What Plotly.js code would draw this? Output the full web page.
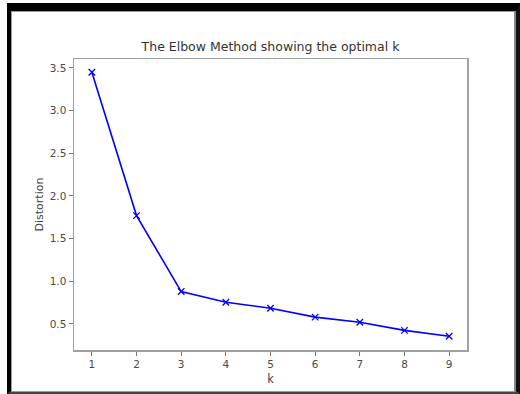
<!DOCTYPE html>
<html>
<head>
<meta charset="utf-8">
<script src="https://cdn.plot.ly/plotly-3.0.1.min.js"></script>
<style>
html,body{margin:0;padding:0;background:#fff;}
#wrap{position:relative;width:520px;height:394px;overflow:hidden;}
#chart{position:absolute;left:0;top:0;width:520px;height:394px;}
#frame{position:absolute;left:7px;top:3px;width:505px;height:380px;border-top:8px solid #000;border-left:4px solid #000;border-right:4px solid #111;border-bottom:3px solid #444;pointer-events:none;}
#frame2{position:absolute;left:11px;top:11px;width:502px;height:379px;border-top:1px solid #999;border-left:1px solid #999;border-right:2px solid #888;border-bottom:1px solid #999;pointer-events:none;}
</style>
</head>
<body>
<div id="wrap">
<div id="chart"></div>
<div id="frame"></div>
<div id="frame2"></div>
</div>
<script>
const kValues = [1, 2, 3, 4, 5, 6, 7, 8, 9];
const distortions = [3.45, 1.77, 0.88, 0.755, 0.685, 0.58, 0.52, 0.425, 0.357];
const yTicks = [0.5, 1.0, 1.5, 2.0, 2.5, 3.0, 3.5];
const yTickText = ['0.5', '1.0', '1.5', '2.0', '2.5', '3.0', '3.5'];

const font = {family: 'DejaVu Sans', size: 10.5, color: '#4a4a4a'};
const trace = {
  x: kValues,
  y: distortions,
  type: 'scatter',
  mode: 'lines+markers',
  line: {color: '#0000ff', width: 1.6},
  marker: {symbol: 'x-thin', size: 6.5, line: {color: '#0000ff', width: 1.3}, color: '#0000ff'}
};
const layout = {
  width: 520, height: 394,
  margin: {l: 74, r: 53, t: 59, b: 44},
  paper_bgcolor: 'rgba(0,0,0,0)',
  plot_bgcolor: '#fff',
  showlegend: false,
  font: font,
  title: {text: 'The Elbow Method showing the optimal k', font: {family: 'DejaVu Sans', size: 12.5, color: '#333'}, x: 0.5, xref: 'paper', y: 1 - 47/394, yref: 'container', yanchor: 'middle'},
  xaxis: {
    range: [0.6, 9.4], tickvals: kValues, ticktext: kValues.map(String),
    showgrid: false, zeroline: false, showline: true, mirror: true,
    linecolor: '#a0a0a0', linewidth: 1.5, ticks: 'outside', ticklen: 4, tickcolor: '#777', tickwidth: 1,
    tickfont: font,
    title: {text: 'k', font: {family: 'DejaVu Sans', size: 11.5, color: '#444'}, standoff: 6},
    automargin: false
  },
  yaxis: {
    range: [0.195, 3.605], tickvals: yTicks, ticktext: yTickText,
    showgrid: false, zeroline: false, showline: true, mirror: true,
    linecolor: '#a0a0a0', linewidth: 1.5, ticks: 'outside', ticklen: 4, tickcolor: '#777', tickwidth: 1,
    tickfont: font,
    title: {text: 'Distortion', font: {family: 'DejaVu Sans', size: 11, color: '#444'}, standoff: 4},
    automargin: false
  }
};
Plotly.newPlot('chart', [trace], layout, {displayModeBar: false, staticPlot: true});
</script>
</body>
</html>
